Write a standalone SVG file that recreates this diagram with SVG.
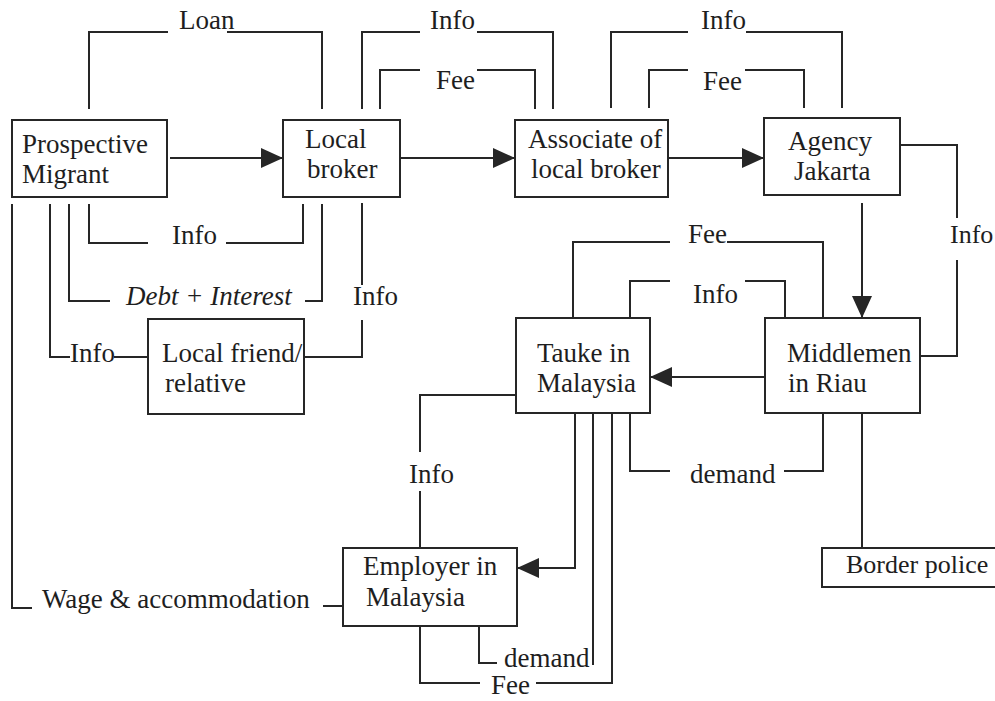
<svg xmlns="http://www.w3.org/2000/svg" width="995" height="701" viewBox="0 0 995 701">
  <style>
    .box { fill: #ffffff; stroke: #262626; stroke-width: 2; }
    .ln { fill: none; stroke: #262626; stroke-width: 2; }
    text { font-family: "Liberation Serif", "Times New Roman", serif; font-size: 27px; fill: #1e1e1e; }
    .it { font-style: italic; }
    .sm { font-size: 26px; }
  </style>
  <defs>
    <marker id="arrow" viewBox="0 0 22 20" refX="22" refY="10" markerWidth="22" markerHeight="20" markerUnits="userSpaceOnUse" orient="auto">
      <path d="M0,0 L22,10 L0,20 z" fill="#262626"/>
    </marker>
  </defs>
  <rect width="995" height="701" fill="#ffffff"/>

  <!-- connectors -->
  <g id="connectors">
    <!-- arrows along the main chain -->
    <path class="ln" d="M170,158 H283" marker-end="url(#arrow)"/>
    <path class="ln" d="M400,158 H515" marker-end="url(#arrow)"/>
    <path class="ln" d="M668,158 H764" marker-end="url(#arrow)"/>
    <path class="ln" d="M862,203 V318" marker-end="url(#arrow)"/>
    <path class="ln" d="M765,377 H650" marker-end="url(#arrow)"/>
    <path class="ln" d="M575,413 V568 H517" marker-end="url(#arrow)"/>

    <!-- Loan -->
    <path class="ln" d="M89,109 V32 H168 M227,32 H322 V109"/>
    <!-- broker / associate: Info and Fee -->
    <path class="ln" d="M362,109 V32 H420 M477,32 H553 V109"/>
    <path class="ln" d="M380,109 V70 H420 M477,70 H535 V109"/>
    <!-- associate / agency: Info and Fee -->
    <path class="ln" d="M611,108 V32 H688 M746,32 H842 V108"/>
    <path class="ln" d="M649,108 V70 H688 M745,70 H804 V108"/>
    <!-- agency / middlemen: Info -->
    <path class="ln" d="M900,145 H957 V218 M957,260 V356 H920"/>

    <!-- migrant / broker below -->
    <path class="ln" d="M89,204 V243 H148 M226,243 H303 V204"/>
    <path class="ln" d="M69,204 V301 H110 M305,301 H322 V204"/>
    <path class="ln" d="M50,204 V357 H70 M114,357 H148"/>
    <path class="ln" d="M304,357 H362 V320 M362,285 V203"/>
    <!-- wage & accommodation -->
    <path class="ln" d="M12,204 V608 H32 M323,606 H343"/>

    <!-- tauke / middlemen -->
    <path class="ln" d="M573,318 V242 H670 M727,242 H823 V318"/>
    <path class="ln" d="M630,318 V281 H670 M745,281 H785 V318"/>
    <path class="ln" d="M630,413 V471 H670 M784,471 H823 V413"/>
    <path class="ln" d="M862,413 V548"/>

    <!-- tauke / employer -->
    <path class="ln" d="M516,395 H420 V452 M420,491 V548"/>
    <path class="ln" d="M479,626 V663 H497 M593,413 V665"/>
    <path class="ln" d="M420,626 V683 H480 M536,683 H612 V413"/>

    <!-- connector labels -->
    <text x="179" y="29">Loan</text>
    <text x="430" y="29">Info</text>
    <text x="436" y="89">Fee</text>
    <text x="701" y="29">Info</text>
    <text x="703" y="90">Fee</text>
    <text class="sm" x="950" y="243">Info</text>
    <text x="172" y="244">Info</text>
    <text class="it" x="126" y="305">Debt + Interest</text>
    <text x="353" y="305">Info</text>
    <text x="70" y="362">Info</text>
    <text x="688" y="243">Fee</text>
    <text x="693" y="303">Info</text>
    <text x="690" y="483">demand</text>
    <text x="409" y="483">Info</text>
    <text x="504" y="667">demand</text>
    <text x="491" y="694">Fee</text>
    <text x="42" y="608">Wage &amp; accommodation</text>
  </g>

  <g id="prospective-migrant">
    <rect class="box" x="12" y="120" width="155" height="77"/>
    <text x="22" y="153">Prospective</text>
    <text x="22" y="183">Migrant</text>
  </g>
  <g id="local-broker">
    <rect class="box" x="283" y="120" width="117" height="77"/>
    <text x="305" y="148">Local</text>
    <text x="307" y="178">broker</text>
  </g>
  <g id="associate">
    <rect class="box" x="515" y="120" width="153" height="77"/>
    <text x="528" y="148">Associate of</text>
    <text x="531" y="178">local broker</text>
  </g>
  <g id="agency-jakarta">
    <rect class="box" x="764" y="118" width="136" height="77"/>
    <text x="788" y="150">Agency</text>
    <text x="794" y="180">Jakarta</text>
  </g>
  <g id="local-friend">
    <rect class="box" x="148" y="319" width="156" height="95"/>
    <text x="162" y="362">Local friend/</text>
    <text x="165" y="392">relative</text>
  </g>
  <g id="tauke">
    <rect class="box" x="516" y="318" width="134" height="95"/>
    <text x="537" y="362">Tauke in</text>
    <text x="537" y="392">Malaysia</text>
  </g>
  <g id="middlemen">
    <rect class="box" x="765" y="318" width="155" height="95"/>
    <text x="787" y="362">Middlemen</text>
    <text x="788" y="392">in Riau</text>
  </g>
  <g id="employer">
    <rect class="box" x="343" y="548" width="174" height="78"/>
    <text x="363" y="575">Employer in</text>
    <text x="366" y="606">Malaysia</text>
  </g>
  <g id="border-police">
    <rect class="box" x="822" y="548" width="180" height="39"/>
    <text class="sm" x="846" y="573">Border police</text>
  </g>
</svg>
